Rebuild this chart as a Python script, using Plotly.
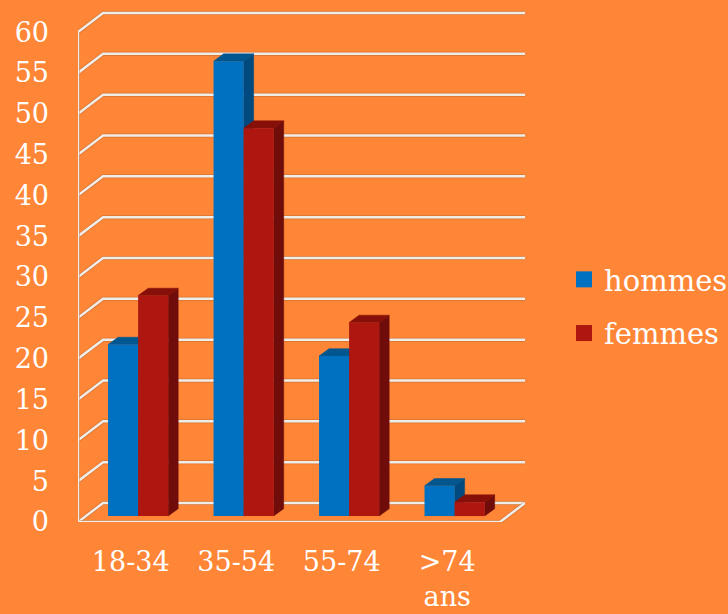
import plotly.graph_objects as go

categories = ["18-34", "35-54", "55-74", ">74<br>ans"]
hommes = [21.0, 55.7, 19.6, 3.7]
femmes = [27.0, 47.5, 23.7, 1.7]
y_ticks = [0, 5, 10, 15, 20, 25, 30, 35, 40, 45, 50, 55, 60]

BG = "#FF8636"
BLUE, BLUE_SIDE, BLUE_TOP = "#0070C0", "#004A80", "#00568F"
RED, RED_SIDE, RED_TOP = "#AD1710", "#700D0A", "#861009"
GRID = "#F0ECE8"
GRID_SHADOW = "rgba(150,90,50,0.4)"
FONT = "DejaVu Serif"

# projection of the fake 3D box, in axis units
X_LEFT, X_RIGHT = -0.5, 3.5
WALL_DX, WALL_DY = 0.2375, 2.33
BAR_W, BAR_SHIFT, BAR_BASE = 0.285, 0.07, 0.73
BAR_DX, BAR_DY = 0.095, 0.9

positions = list(range(len(categories)))
shapes = []


def line(path):
    d = "M" + " L".join(f"{x},{y}" for x, y in path)
    for color, width in [(GRID_SHADOW, 4), (GRID, 2.5)]:
        shapes.append(dict(type="path", path=d, xref="x", yref="y", layer="below",
                           line=dict(color=color, width=width)))


def face(path, color):
    d = "M" + " L".join(f"{x},{y}" for x, y in path) + " Z"
    shapes.append(dict(type="path", path=d, xref="x", yref="y", layer="below",
                       fillcolor=color, line=dict(color=color, width=0.5)))


for v in y_ticks:
    line([(X_LEFT, v), (X_LEFT + WALL_DX, v + WALL_DY), (X_RIGHT + WALL_DX, v + WALL_DY)])
line([(X_LEFT, y_ticks[-1]), (X_LEFT, 0), (X_RIGHT, 0), (X_RIGHT + WALL_DX, WALL_DY)])


def faces(values, left_offset, side, top):
    for p, v in zip(positions, values):
        x0 = p + left_offset
        x1 = x0 + BAR_W
        y1 = BAR_BASE + v
        face([(x1, BAR_BASE), (x1 + BAR_DX, BAR_BASE + BAR_DY),
              (x1 + BAR_DX, y1 + BAR_DY), (x1, y1)], side)
        face([(x0, y1), (x0 + BAR_DX, y1 + BAR_DY),
              (x1 + BAR_DX, y1 + BAR_DY), (x1, y1)], top)


H_OFFSET = BAR_SHIFT - BAR_W
F_OFFSET = BAR_SHIFT
faces(hommes, H_OFFSET, BLUE_SIDE, BLUE_TOP)
faces(femmes, F_OFFSET, RED_SIDE, RED_TOP)

fig = go.Figure()
for name, vals, off, col in [("hommes", hommes, H_OFFSET, BLUE), ("femmes", femmes, F_OFFSET, RED)]:
    fig.add_bar(x=positions, y=vals, base=BAR_BASE, width=BAR_W, offset=off,
                marker=dict(color=col, line=dict(width=0)), showlegend=False, name=name)
    fig.add_scatter(x=[None], y=[None], mode="markers", name=name, legendgroup=name,
                    marker=dict(symbol="square", size=16, color=col))

fig.update_layout(
    width=728, height=614, autosize=False,
    paper_bgcolor=BG, plot_bgcolor=BG,
    margin=dict(l=78, r=203, t=10, b=92, autoexpand=False),
    barmode="overlay",
    shapes=shapes,
    font=dict(family=FONT, color="white", size=27),
    showlegend=True,
    legend=dict(xref="container", yref="container", x=564 / 728, y=1 - 254 / 614,
                xanchor="left", yanchor="top",
                font=dict(size=29, color="white", family=FONT),
                tracegroupgap=13, bgcolor="rgba(0,0,0,0)"),
    xaxis=dict(range=[X_LEFT, X_RIGHT + WALL_DX], tickvals=positions, ticktext=categories,
               showgrid=False, zeroline=False, showline=False, ticks="", ticklabelstandoff=21,
               automargin=False),
    yaxis=dict(range=[0, 62.7], tickvals=y_ticks, showgrid=False, zeroline=False,
               showline=False, ticks="", ticklabelstandoff=28, automargin=False),
)
fig.write_html("out.html", config={"displayModeBar": False},
               post_script="document.body.style.margin='0';document.body.style.overflow='hidden';")
